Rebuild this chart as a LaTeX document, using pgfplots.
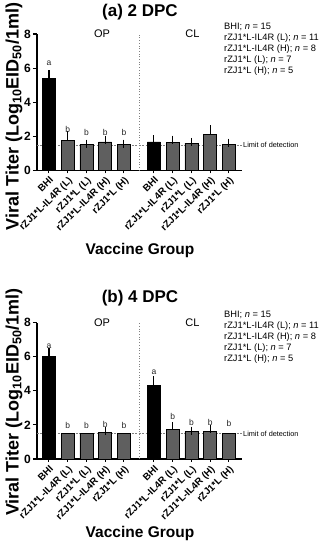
\documentclass[border=0pt]{standalone}
\usepackage{fontspec}
\setmainfont{Liberation Sans}
\usepackage{pgfplots}
\pgfplotsset{compat=1.18}
\definecolor{bargray}{RGB}{95,95,95}
\newcommand{\fs}[1]{\fontsize{#1}{#1}\selectfont}

\pgfplotsset{
 myaxis/.style={
  scale only axis, width=205pt, height=136.5pt, anchor=south west,
  xmin=-0.64, xmax=10.3, ymin=0, ymax=8,
  axis x line=bottom, axis y line=left,
  axis line style={-, line width=1.3pt, black},
  ytick={0,2,4,6,8},
  xtick={0,1,2,3,4,5.6,6.6,7.6,8.6,9.6},
  xticklabels={BHI, rZJ1*L-IL4R (L), rZJ1*L (L), rZJ1*L-IL4R (H), rZJ1*L (H), BHI, rZJ1*L-IL4R (L), rZJ1*L (L), rZJ1*L-IL4R (H), rZJ1*L (H)},
  xticklabel style={rotate=45, anchor=north east, font=\bfseries\fs{9.8}, inner sep=1pt},
  yticklabel style={font=\bfseries\fs{12}, inner sep=2pt},
  /pgf/number format/assume math mode=true,
  tick align=outside, major tick length=4pt,
  tick style={line width=1.2pt, black},
  xtick style={/pgfplots/major tick length=3pt, line width=1pt},
  clip=false,
 },
 mybar/.style={ybar, bar width=13pt, bar shift=0pt, draw=black, line width=0.6pt, fill=#1},
 myerr/.style={error bars/.cd, y dir=plus, y explicit, error bar style={line width=1.1pt, black}, error mark options={line width=1.1pt, mark size=4pt, black}},
 letters/.style={draw=none, mark=none, nodes near coords, point meta=explicit symbolic, nodes near coords style={anchor=south, inner sep=0pt, font=\fs{8.5}, text=black!85}},
 lod/.style={gray, dash pattern=on 2pt off 1.5pt, line width=0.6pt},
 sep/.style={gray, dotted, line width=0.7pt},
}

\begin{document}
\begin{tikzpicture}
\useasboundingbox (0,0) rectangle (322pt,550pt);

% ---------- Panel (a) ----------
\begin{axis}[myaxis, at={(37pt,379.5pt)}]
\addplot[sep] coordinates {(4.8,0) (4.8,8)};
\addplot[lod] coordinates {(-0.64,1.5) (10.3,1.5)};
\addplot[mybar=black, myerr] coordinates {(0,5.40) +- (0,0.24) (5.6,1.68) +- (0,0.15)};
\addplot[mybar=bargray, myerr] coordinates {(1,1.78) +- (0,0.28) (2,1.55) +- (0,0.03) (3,1.68) +- (0,0.08) (4,1.55) +- (0,0.03)
  (6.6,1.65) +- (0,0.16) (7.6,1.61) +- (0,0.07) (8.6,2.13) +- (0,0.28) (9.6,1.55) +- (0,0.08)};
\addplot[letters] coordinates {(0,6.15)[a] (1,2.23)[b] (2,2.03)[b] (3,2.03)[b] (4,2.03)[b]};
\node[font=\fs{11}] at (axis cs:2.83,8) {OP};
\node[font=\fs{11}] at (axis cs:7.65,8) {CL};
\node[anchor=west, font=\fs{7.3}, inner sep=1pt] at (axis cs:10.3,1.5) {Limit of detection};
\end{axis}

% ---------- Panel (b) ----------
\begin{axis}[myaxis, at={(37pt,91pt)}]
\addplot[sep] coordinates {(4.8,0) (4.8,8)};
\addplot[lod] coordinates {(-0.64,1.5) (10.3,1.5)};
\addplot[mybar=black, myerr] coordinates {(0,6.02) +- (0,0.23) (5.6,4.33) +- (0,0.30)};
\addplot[mybar=bargray, myerr] coordinates {(3,1.58) +- (0,0.05) (6.6,1.74) +- (0,0.18) (7.6,1.60) +- (0,0.06) (8.6,1.63) +- (0,0.12)};
\addplot[mybar=bargray] coordinates {(1,1.5) (2,1.5) (4,1.5) (9.6,1.5)};
\addplot[letters] coordinates {(0,6.45)[a] (1,1.76)[b] (2,1.76)[b] (3,1.82)[b] (4,1.76)[b]
  (5.6,4.95)[a] (6.6,2.28)[b] (7.6,1.95)[b] (8.6,1.95)[b] (9.6,1.88)[b]};
\node[font=\fs{11}] at (axis cs:2.83,8) {OP};
\node[font=\fs{11}] at (axis cs:7.65,8) {CL};
\node[anchor=west, font=\fs{7.3}, inner sep=1pt] at (axis cs:10.3,1.5) {Limit of detection};
\end{axis}

% ---------- Titles, labels, legends ----------
\node[font=\bfseries\fs{17}] at (140pt,538pt) {(a) 2 DPC};
\node[font=\bfseries\fs{17}] at (140pt,252pt) {(b) 4 DPC};
\node[rotate=90, font=\bfseries\fs{18}] at (14pt,433.5pt) {Viral Titer (Log\textsubscript{10}EID\textsubscript{50}/1ml)};
\node[rotate=90, font=\bfseries\fs{18}] at (14pt,148pt) {Viral Titer (Log\textsubscript{10}EID\textsubscript{50}/1ml)};
\node[font=\bfseries\fs{15.5}] at (140pt,300pt) {Vaccine Group};
\node[font=\bfseries\fs{15.5}] at (140pt,17pt) {Vaccine Group};

\begin{scope}[every node/.style={anchor=base west, inner sep=0pt, font=\fs{9.3}}]
\node at (224pt,520.7pt) {BHI; \textit{n} = 15};
\node at (224pt,509.7pt) {rZJ1*L-IL4R (L); \textit{n} = 11};
\node at (224pt,498.7pt) {rZJ1*L-IL4R (H); \textit{n} = 8};
\node at (224pt,487.7pt) {rZJ1*L (L); \textit{n} = 7};
\node at (224pt,476.7pt) {rZJ1*L (H); \textit{n} = 5};
\node at (224pt,232.7pt) {BHI; \textit{n} = 15};
\node at (224pt,221.7pt) {rZJ1*L-IL4R (L); \textit{n} = 11};
\node at (224pt,210.7pt) {rZJ1*L-IL4R (H); \textit{n} = 8};
\node at (224pt,199.7pt) {rZJ1*L (L); \textit{n} = 7};
\node at (224pt,188.7pt) {rZJ1*L (H); \textit{n} = 5};
\end{scope}
\end{tikzpicture}
\end{document}
